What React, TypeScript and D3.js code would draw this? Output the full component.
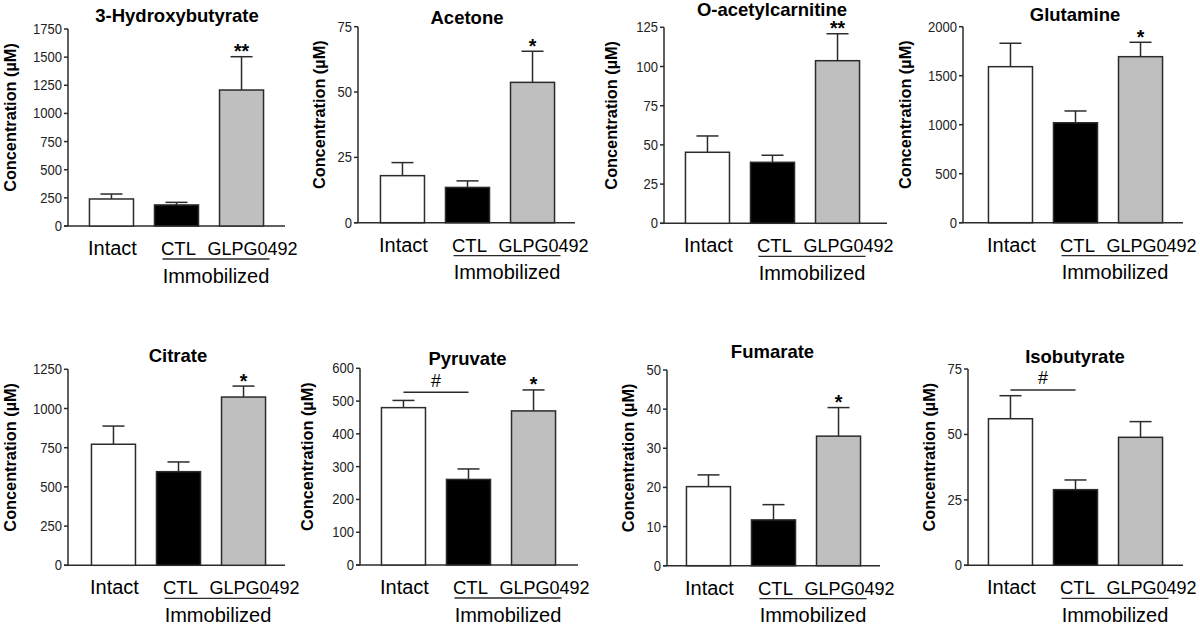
import React from "react";
import * as d3 from "d3";

const titles = ["3-Hydroxybutyrate", "Acetone", "O-acetylcarnitine", "Glutamine", "Citrate", "Pyruvate", "Fumarate", "Isobutyrate"];
const groups = ["Intact", "CTL", "GLPG0492"];
const intactMean = [240, 18, 45.3, 1592, 772, 480, 20.2, 56];
const intactSem = [44, 5, 10.4, 239, 116, 22, 3, 8.8];
const ctlMean = [187, 13.5, 38.9, 1020, 597, 261, 11.7, 28.9];
const ctlSem = [23, 2.5, 4.5, 120, 62, 32, 3.9, 3.7];
const glpgMean = [1208, 53.7, 103.7, 1694, 1073, 470, 33.1, 48.9];
const glpgSem = [296, 11.9, 17.2, 147, 70, 64, 7.3, 6];
const yMax = [1750, 75, 125, 2000, 1250, 600, 50, 75];
const yTicks = [
  [0, 250, 500, 750, 1000, 1250, 1500, 1750],
  [0, 25, 50, 75],
  [0, 25, 50, 75, 100, 125],
  [0, 500, 1000, 1500, 2000],
  [0, 250, 500, 750, 1000, 1250],
  [0, 100, 200, 300, 400, 500, 600],
  [0, 10, 20, 30, 40, 50],
  [0, 25, 50, 75],
];
const stars = ["**", "*", "**", "*", "*", "*", "*", ""];
const hashBracket: (number | null)[] = [null, null, null, null, null, 527, null, 67];

// layout (pixel positions of each panel)
const layout = [
  { ax: 68, top: 29, bottom: 226, band: 0, len: 217, tx: 177, ty: 21.7 },
  { ax: 358, top: 26.7, bottom: 222.7, band: 1, len: 217, tx: 467, ty: 24 },
  { ax: 664, top: 27.3, bottom: 223.3, band: 0, len: 223, tx: 772, ty: 15.5 },
  { ax: 963, top: 26.7, bottom: 222.7, band: 4, len: 220, tx: 1075, ty: 20.7 },
  { ax: 68, top: 369.3, bottom: 565.3, band: 2, len: 217, tx: 178, ty: 361.7 },
  { ax: 360, top: 368.3, bottom: 565, band: 0, len: 218, tx: 467.5, ty: 365 },
  { ax: 667, top: 370, bottom: 565.7, band: -2, len: 213, tx: 772.5, ty: 358.3 },
  { ax: 968, top: 369, bottom: 565.3, band: -1, len: 215, tx: 1075, ty: 362.7 },
];
const fills = ["#ffffff", "#000000", "#bfbfbf"];
const FONT = "'Liberation Sans', Arial, sans-serif";
const INK = "#2b2b2b";

function Panel({ i }: { i: number }) {
  const L = layout[i];
  const means = [intactMean[i], ctlMean[i], glpgMean[i]];
  const sems = [intactSem[i], ctlSem[i], glpgSem[i]];
  const y = d3.scaleLinear().domain([0, yMax[i]]).range([L.bottom, L.top]);
  const x = d3
    .scaleBand<string>()
    .domain(groups)
    .range([L.ax + L.band, L.ax + L.band + 217])
    .paddingInner(0.323)
    .paddingOuter(0.33);
  const bw = x.bandwidth();
  const digits = String(yMax[i]).length;
  const labelOff = digits >= 4 ? 58 : digits === 3 ? 53 : 39;
  const midY = (L.top + L.bottom) / 2 - 10;
  const cx = (g: string) => (x(g) as number) + bw / 2;
  const z = L.bottom;
  const xCTL = x("CTL") as number;
  const xG = x("GLPG0492") as number;
  return (
    <g>
      <text x={L.tx} y={L.ty} textAnchor="middle" fontFamily={FONT} fontWeight="bold" fontSize={18.5} fill="#000">
        {titles[i]}
      </text>
      <text
        transform={`translate(${L.ax - labelOff},${midY}) rotate(-90)`}
        textAnchor="middle"
        dominantBaseline="central"
        fontFamily={FONT}
        fontWeight="bold"
        fontSize={16.3}
        fill="#000"
      >
        Concentration (µM)
      </text>
      {/* axes */}
      <line x1={L.ax} x2={L.ax} y1={L.top} y2={z} stroke={INK} strokeWidth={1.5} />
      <line x1={L.ax - 4} x2={L.ax + L.len} y1={z} y2={z} stroke={INK} strokeWidth={1.5} />
      {yTicks[i].map((t) => (
        <g key={t}>
          <line x1={L.ax - 4} x2={L.ax} y1={y(t)} y2={y(t)} stroke={INK} strokeWidth={1.5} />
          <text
            transform={`translate(${L.ax - 6},${y(t)}) scale(0.93,1)`}
            dy="0.36em"
            textAnchor="end"
            fontFamily={FONT}
            fontSize={14}
            fill="#222"
          >
            {t}
          </text>
        </g>
      ))}
      {/* bars */}
      {groups.map((g, k) => {
        const top = y(means[k]);
        const et = y(means[k] + sems[k]);
        return (
          <g key={g}>
            <line x1={cx(g)} x2={cx(g)} y1={top} y2={et} stroke={INK} strokeWidth={1.5} />
            <line x1={cx(g) - bw / 4} x2={cx(g) + bw / 4} y1={et} y2={et} stroke={INK} strokeWidth={1.5} />
            <rect x={x(g)} y={top} width={bw} height={z - top} fill={fills[k]} stroke={INK} strokeWidth={1.5} />
          </g>
        );
      })}
      {stars[i] && (
        <text x={cx("GLPG0492")} y={y(glpgMean[i] + glpgSem[i]) + 1.5} textAnchor="middle" fontFamily={FONT} fontWeight="bold" fontSize={19.5} fill="#000">
          {stars[i]}
        </text>
      )}
      {hashBracket[i] !== null && (
        <g>
          <line x1={cx("Intact")} x2={cx("CTL")} y1={y(hashBracket[i] as number)} y2={y(hashBracket[i] as number)} stroke={INK} strokeWidth={1.5} />
          <text x={(cx("Intact") + cx("CTL")) / 2} y={y(hashBracket[i] as number) - 5.5} textAnchor="middle" fontFamily={FONT} fontSize={18} fill="#000">
            #
          </text>
        </g>
      )}
      {/* category labels */}
      <text x={cx("Intact") + 1} y={z + 29} textAnchor="middle" fontFamily={FONT} fontSize={20} fill="#000">
        Intact
      </text>
      <text x={xCTL + 6.5} y={z + 29} textAnchor="start" fontFamily={FONT} fontSize={18.5} fill="#000">
        CTL
      </text>
      <text x={xG - 12} y={z + 29} textAnchor="start" fontFamily={FONT} fontSize={18} fill="#000">
        GLPG0492
      </text>
      <line x1={xCTL + 8} x2={xG + bw + 6} y1={z + 33} y2={z + 33} stroke={INK} strokeWidth={1.3} />
      <text x={(xCTL + 8 + xG + bw + 6) / 2} y={z + 56.5} textAnchor="middle" fontFamily={FONT} fontSize={20} fill="#000">
        Immobilized
      </text>
    </g>
  );
}

export default function App() {
  return (
    <svg width={1200} height={629} style={{ position: "absolute", left: 0, top: 0, background: "#fff" }}>
      <rect width={1200} height={629} fill="#fff" />
      {titles.map((_, i) => (
        <Panel key={i} i={i} />
      ))}
    </svg>
  );
}
